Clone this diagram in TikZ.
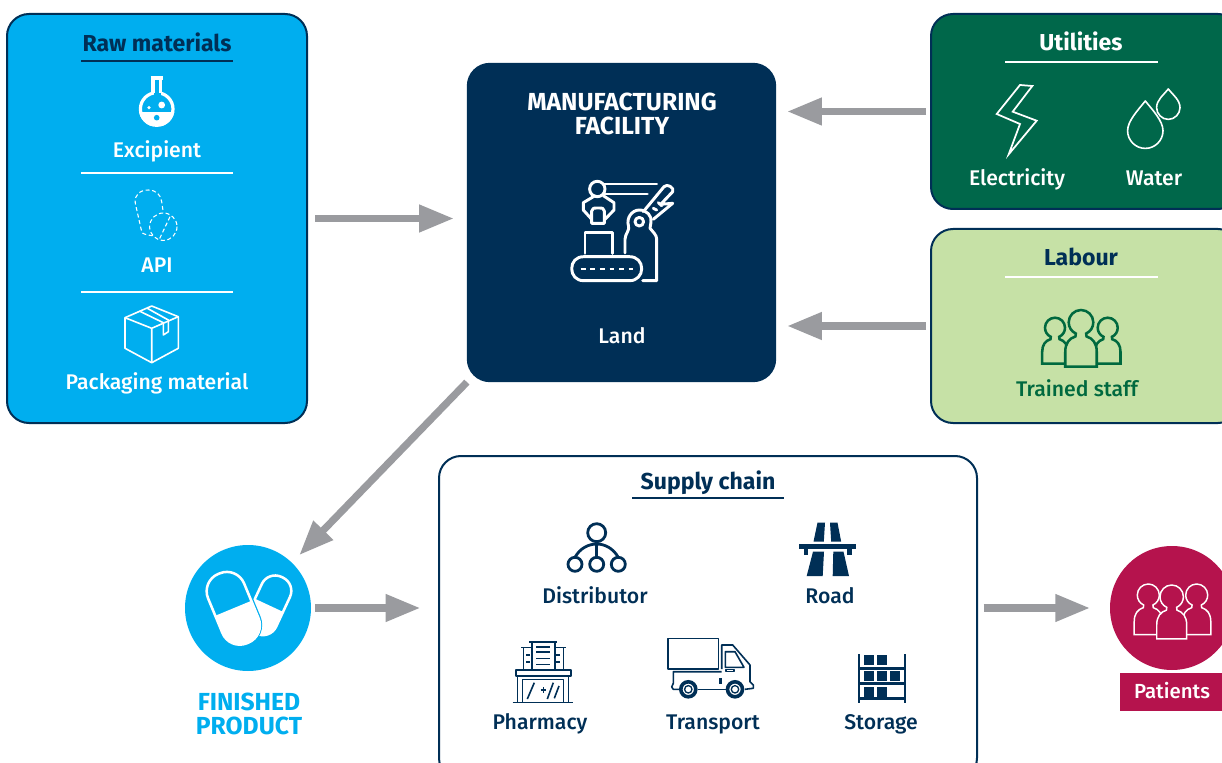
\documentclass[tikz,border=0pt]{standalone}
\usepackage{fontspec}
\setmainfont{Fira Sans}[BoldFont=Fira Sans Medium]
\newfontfamily\headfont{Fira Sans Bold}
\usepackage{xcolor}
\usetikzlibrary{calc,arrows.meta}
\definecolor{navy}{HTML}{002F56}
\definecolor{skyblue}{HTML}{00AEEF}
\definecolor{forest}{HTML}{00674A}
\definecolor{leaf}{HTML}{C6E1A6}
\definecolor{staffgreen}{HTML}{00693F}
\definecolor{crimson}{HTML}{B5134D}
\definecolor{flowgrey}{HTML}{9A9B9F}
\tikzset{
  panel/.style={rectangle, rounded corners=16.5pt, draw=navy, line width=1.5pt, outer sep=0pt, inner sep=0pt},
  flow/.style={draw=flowgrey, line width=5.4pt, -{Triangle[length=26pt,width=19.5pt]}},
  lab/.style={anchor=base, yshift=-0.6pt, font=\fontsize{15.9}{18}\selectfont\bfseries, inner sep=0pt},
  head/.style={anchor=base, yshift=-0.6pt, font=\fontsize{17.3}{18}\selectfont\headfont, inner sep=0pt},
  caps/.style={font=\fontsize{18.5}{18}\selectfont\headfont, align=center, inner sep=0pt},
  rule/.style={line width=1.1pt},
  thin/.style={draw=white, line width=1.2pt, line join=round},
  robo/.style={draw=white, line width=2.2pt, line join=round, line cap=round},
  ink/.style={draw=navy, line width=1.2pt, line join=round},
  person/.pic={
    \path[pic actions] (-1.28,3.6) -- (-1.28,2.4) .. controls (-1.28,1.7) and (-0.95,1.3) .. (-0.45,1.15)
      -- (-0.42,0.91) .. controls (-0.78,0.75) and (-1,0.4) .. (-1,0)
      .. controls (-1,-0.55) and (-0.55,-1) .. (0,-1) .. controls (0.55,-1) and (1,-0.55) .. (1,0)
      .. controls (1,0.4) and (0.78,0.75) .. (0.42,0.91) -- (0.45,1.15)
      .. controls (0.95,1.3) and (1.28,1.7) .. (1.28,2.4) -- (1.28,3.6) -- cycle;
  },
}

\begin{document}
\begin{tikzpicture}[x=0.75pt,y=-0.75pt]
  \useasboundingbox (0,0) rectangle (1222,763);
  \clip (0,0) rectangle (1222,763);

  \node[panel, fill=skyblue, minimum width=225pt, minimum height=306.75pt] (rawbox) at (157,218.5) {};
  \node[panel, fill=navy, minimum width=230.5pt, minimum height=238pt] (mfgbox) at (621.5,222.5) {};
  \node[panel, fill=forest, minimum width=231.75pt, minimum height=146.25pt] (utilbox) at (1085.5,111.5) {};
  \node[panel, fill=leaf, minimum width=231.75pt, minimum height=145.5pt] (labourbox) at (1085.5,326) {};
  \node[panel, fill=white, minimum width=403.5pt, minimum height=243pt] (supplybox) at (708,618) {};
  \node[circle, fill=skyblue, minimum size=94.5pt, inner sep=0pt, outer sep=0pt] (finished) at (248,608) {};
  \node[circle, fill=crimson, minimum size=93pt, inner sep=0pt, outer sep=0pt] (patients) at (1172,608) {};
  \node[rectangle, fill=crimson, minimum width=76.5pt, minimum height=28.5pt, inner sep=0pt] (patientstag) at (1171,692) {};

  \draw[flow, shorten <=6pt, shorten >=10.5pt] (rawbox.east) -- (rawbox.east -| mfgbox.west);
  \draw[flow, shorten <=3.75pt, shorten >=9pt] (utilbox.west) -- (utilbox.west -| mfgbox.east);
  \draw[flow, shorten <=3.75pt, shorten >=9pt] (labourbox.west) -- (labourbox.west -| mfgbox.east);
  \draw[flow, shorten <=1pt, shorten >=8pt] (mfgbox.south west) -- (finished);
  \draw[flow, shorten <=3pt, shorten >=14pt] (finished.east) -- (finished.east -| supplybox.west);
  \draw[flow, shorten <=5pt, shorten >=15pt] (patients.west -| supplybox.east) -- (patients.west);

  \node[head, text=navy] (rawtitle) at (157,50.5) {Raw materials};
  \node[lab, text=white] (excipient) at (157,157) {Excipient};
  \node[lab, text=white] (api) at (157,272) {API};
  \node[lab, text=white] (packaging) at (157,389) {Packaging material};
  \node[caps, text=white] (mfgtitle) at (622,113.5) {MANUFACTURING\\FACILITY};
  \node[lab, text=white] (land) at (622,343) {Land};
  \node[head, text=white] (utiltitle) at (1081,49.5) {Utilities};
  \node[lab, text=white] (electricity) at (1017,185) {Electricity};
  \node[lab, text=white] (water) at (1154,185) {Water};
  \node[head, text=navy] (labourtitle) at (1081,265) {Labour};
  \node[lab, text=staffgreen] (staff) at (1077,396) {Trained staff};
  \node[head, text=navy] (supplytitle) at (708,489) {Supply chain};
  \node[lab, text=navy] (distributor) at (595,603) {Distributor};
  \node[lab, text=navy] (road) at (830,603) {Road};
  \node[lab, text=navy] (pharmacy) at (540,729) {Pharmacy};
  \node[lab, text=navy] (transport) at (713,729) {Transport};
  \node[lab, text=navy] (storage) at (881,729) {Storage};
  \node[caps, text=skyblue] (finishedlab) at (249,714) {FINISHED\\PRODUCT};
  \node[lab, text=white, font=\fontsize{15.3}{18}\selectfont\bfseries] (patientslab) at (1172,698) {Patients};

  \draw[rule, navy] (81,61) -- (233,61);
  \draw[rule, white] (81,173) -- (233,173);
  \draw[rule, white] (81,292) -- (233,292);
  \draw[rule, white] (1005,62) -- (1158,62);
  \draw[rule, white] (1005,277) -- (1158,277);
  \draw[rule, navy] (632,498) -- (784,498);

  % flask
  \begin{scope}
    \clip (130,112.6) rectangle (185,126);
    \fill[white] (156.7,109) circle (17.8);
  \end{scope}
  \draw[white, line width=2.4pt] (156.7,109) circle (16.3);
  \fill[skyblue] (153.5,88) rectangle (160.5,96);
  \draw[white, line width=2.4pt] (153,78) -- (153,93.5) (160.5,78) -- (160.5,93.5);
  \draw[white, line width=2.4pt] (150.5,78) -- (163,78);
  \fill[skyblue] (156.7,117.7) circle (2.8);
  \fill[white] (161.7,105) circle (3.4) (149,107.7) circle (1.8);

  % capsule and tablet
  \draw[white, line width=0.8pt, dash pattern=on 3pt off 2pt] (152.7,235.7) .. controls (147,235) and (142,234) .. (141.7,231.7)
    -- (135.3,203.3) .. controls (134,195) and (140,190) .. (148.3,190) .. controls (156,190) and (161,195) .. (161.7,201.7) -- (163.3,212.7);
  \draw[white, line width=0.8pt, dash pattern=on 3pt off 2pt] (163.3,226.7) circle (13.7) (170,216.7) -- (159.3,239.3);

  % carton
  \draw[thin] (151.7,306) -- (178.3,316.7) -- (178.3,348.3) -- (151.7,362.7) -- (125,348.3) -- (125,317.7) -- cycle;
  \draw[thin] (125,317.7) -- (151.7,328.3) -- (178.3,316.7) (151.7,328.3) -- (151.7,362.7);
  \draw[thin] (139.3,311) -- (163.3,322.7) -- (163.3,335) -- (168.3,331.7) -- (168.3,320) -- (147.3,308.3);

  % robot arm
  \draw[robo] (583.7,256.7) -- (629.7,256.7) .. controls (637,256.7) and (641.7,262) .. (641.7,268.7)
    .. controls (641.7,275) and (637,280.7) .. (629.7,280.7) -- (583.7,280.7)
    .. controls (576,280.7) and (571.7,275) .. (571.7,268.7) .. controls (571.7,262) and (576,256.7) .. (583.7,256.7);
  \draw[white, line width=2.2pt, dash pattern=on 3.6pt off 3.6pt] (580.7,269) -- (633.3,269);
  \draw[robo] (585,253.3) -- (585,232.7) -- (612.7,232.7) -- (612.7,253.3);
  \draw[robo] (597.3,189) circle (7.7);
  \draw[robo] (603.3,184) -- (656.7,184) (603.3,194) -- (647.3,194);
  \draw[robo] (595,195.7) -- (583.3,202.7) -- (583.3,210) -- (591.7,219.3);
  \draw[robo] (603.3,195.7) -- (614,202.7) -- (614,210) -- (605,219.3);
  \draw[robo] (591.7,223.3) -- (591.7,211) .. controls (591.7,208) and (594,208) .. (598,208)
    .. controls (602,208) and (604.3,208) .. (604.3,211) -- (604.3,223.3) -- cycle;
  \draw[robo] (625,253) -- (625,239.3) .. controls (625,234) and (630,230) .. (628.5,226)
    .. controls (626,218) and (632,210) .. (639.3,210) .. controls (647,210) and (652,216) .. (651,222)
    -- (650,228.3) .. controls (653,232) and (656.7,235) .. (656.7,239.3) -- (656.7,280.7) -- (642.7,280.7);
  \draw[robo] (639.3,221.7) circle (4.3);
  \draw[robo] (643.3,211.7) -- (664,186.7) .. controls (667,183) and (675,188) .. (672.7,191.7)
    -- (660.7,204.3) -- (672.7,203.3) -- (653.3,219.3);
  \draw[robo] (653.3,208.3) -- (656.7,210) (658.3,202.7) -- (661.7,205.7);

  % bolt
  \draw[white, line width=1.3pt, line join=miter] (1020,85) -- (1032.3,86) -- (1012.7,111.7) -- (1036.7,120.7) -- (1008.7,154.3) -- (1020,124) -- (996.7,114) -- cycle;

  % drops
  \draw[thin] (1145.3,101) .. controls (1138,110) and (1127.6,121) .. (1127.6,130.7)
    .. controls (1127.6,140.5) and (1135.5,148.4) .. (1145.3,148.4)
    .. controls (1155,148.4) and (1163,140.5) .. (1163,130.7) .. controls (1163,121) and (1152.6,110) .. cycle;
  \draw[thin] (1168.3,89) .. controls (1163.5,95) and (1156.6,100) .. (1156.6,107.7)
    .. controls (1156.6,114) and (1162,119.4) .. (1168.3,119.4)
    .. controls (1174.6,119.4) and (1180,114) .. (1180,107.7) .. controls (1180,100) and (1173,95) .. cycle;

  % trained staff
  \pic[draw=staffgreen, fill=leaf, line width=1.9pt, scale=10] at (1055,327.7) {person};
  \pic[draw=staffgreen, fill=leaf, line width=1.9pt, scale=10] at (1107.7,327.7) {person};
  \pic[draw=staffgreen, fill=leaf, line width=1.9pt, scale=12.3] at (1081,322.3) {person};

  % patients
  \pic[draw=white, fill=crimson, line width=1.1pt, scale=11] at (1148.3,595) {person};
  \pic[draw=white, fill=crimson, line width=1.1pt, scale=11] at (1196.7,595) {person};
  \pic[draw=white, fill=crimson, line width=1.1pt, scale=11.7] at (1171.7,596.7) {person};

  % pills
  \begin{scope}[shift={(269,605.3)},rotate=-25]
    \draw[white, line width=1.9pt, rounded corners=11pt] (-15.5,-31) rectangle (15.5,31);
    \clip (-20,0) rectangle (20,40);
    \fill[white, rounded corners=11.6pt] (-16,-31.5) rectangle (16,31.5);
  \end{scope}
  \begin{scope}[shift={(233.3,608.3)},rotate=22.5]
    \fill[skyblue, rounded corners=16.5pt] (-22,-40) rectangle (22,40);
    \draw[white, line width=1.9pt, rounded corners=14pt] (-19.5,-37.5) rectangle (19.5,37.5);
    \clip (-25,0) rectangle (25,45);
    \fill[white, rounded corners=14.6pt] (-20,-38) rectangle (20,38);
  \end{scope}

  % distributor
  \draw[navy, line width=2.1pt] (596.7,532.7) circle (9) (575,564.3) circle (7) (596.7,564.3) circle (7) (618.3,564.3) circle (7);
  \draw[navy, line width=2.1pt] (596.7,541.7) -- (596.7,557.3);
  \draw[navy, line width=2.1pt] (575,557.3) .. controls (580,548) and (589,544) .. (596.7,544) .. controls (604.4,544) and (613,548) .. (618.3,557.3);

  % road
  \fill[navy] (817.5,522.7) -- (825,522.7) -- (823.8,541.7) -- (813.5,541.7) -- cycle;
  \fill[navy] (830,522.7) -- (837.5,522.7) -- (841.2,541.7) -- (831.2,541.7) -- cycle;
  \fill[navy] (799.3,544) rectangle (856,549.3);
  \fill[navy] (804,549.3) rectangle (808.3,555);
  \fill[navy] (846.7,549.3) rectangle (851.7,555);
  \fill[navy] (813,551.7) -- (824,551.7) -- (822.7,576) -- (806.7,576) -- cycle;
  \fill[navy] (833.3,551.7) -- (843.5,551.7) -- (849,576) -- (832.7,576) -- cycle;

  % pharmacy
  \draw[ink] (512.7,702.3) -- (573.3,702.3);
  \draw[ink] (515.7,670) rectangle (570.7,675.7);
  \draw[ink] (517.3,675.7) -- (517.3,702.3) (568.3,675.7) -- (568.3,702.3);
  \draw[ink] (522.3,702.3) -- (522.3,679.3) -- (563.3,679.3) -- (563.3,702.3);
  \draw[ink] (534.3,682.7) -- (527.3,699) (553.3,682.7) -- (547.3,699) (559,686) -- (554.3,698.3);
  \draw[ink] (540.5,690) -- (546,690) (543.3,687.2) -- (543.3,692.8);
  \draw[ink] (531.7,670) -- (531.7,642) (555,642) -- (555,670) (529.3,641.7) -- (556.7,641.7);
  \draw[ink] (523.3,670) -- (523.3,648) (563.3,648) -- (563.3,670) (521,647.5) -- (531.7,647.5) (555,647.5) -- (565.5,647.5);
  \foreach \y in {646.7,651.7,658.3,664.3} \draw[ink] (536,\y) -- (550,\y);
  \foreach \y in {655,661.7} \draw[ink] (526,\y) -- (530,\y) (556,\y) -- (560,\y);

  % truck
  \draw[ink] (667.7,638.3) rectangle (718.3,669);
  \draw[ink] (721.7,669) -- (721.7,645) -- (732.7,645) -- (750,665) -- (750,681.7) -- (753.3,685) -- (753.3,688.3) -- (745,689.3);
  \draw[ink] (721.7,671.7) -- (673.3,671.7) -- (673.3,683.3) -- (671.7,687) -- (673.3,689.3) -- (680,689.3);
  \draw[ink] (698.3,689.3) -- (726.7,689.3);
  \draw[ink] (725.3,651.7) -- (735,651.7) -- (744,667.3) -- (725.3,667.3) -- cycle;
  \draw[ink, line width=0.8pt] (726,669.3) rectangle (734,671.7);
  \fill[navy] (718.5,678.3) rectangle (721.7,684.3);
  \draw[navy, line width=2.7pt, fill=white] (688.3,689.3) circle (7.5) (735,689.3) circle (7.5);
  \draw[navy, line width=1pt] (688.3,689.3) circle (3.7) (735,689.3) circle (3.7);

  % storage
  \draw[navy, line width=2.2pt] (859,654) -- (859,702.7) (905,654) -- (905,702.7);
  \foreach \y in {668.3,683.3,698.3} \draw[navy, line width=2pt] (859,\y) -- (905,\y);
  \foreach \x/\y in {864/655,877/655,864/671,877/671,890/671,864/686.7,877/686.7} \fill[navy] (\x,\y) rectangle ++(10,10);
\end{tikzpicture}
\end{document}
